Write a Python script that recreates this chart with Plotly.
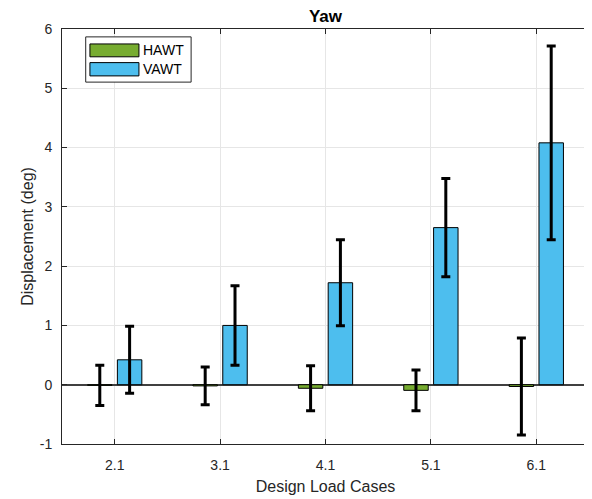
import plotly.graph_objects as go

categories = ["2.1", "3.1", "4.1", "5.1", "6.1"]
hawt_mean = [-0.01, -0.02, -0.06, -0.095, -0.03]
hawt_err = [0.34, 0.32, 0.38, 0.345, 0.82]
vawt_mean = [0.42, 1.00, 1.72, 2.65, 4.08]
vawt_err = [0.565, 0.67, 0.725, 0.83, 1.635]

y_tick_values = [-1, 0, 1, 2, 3, 4, 5, 6]
y_tick_labels = ["-1", "0", "1", "2", "3", "4", "5", "6"]

series_names = ["HAWT", "VAWT"]
series_colors = ["#77AC30", "#4DBEEE"]

font_family = "Liberation Sans, Arial, sans-serif"
axis_color = "#262626"

fig = go.Figure()
for name, color, ys, errs in zip(series_names, series_colors,
                                 [hawt_mean, vawt_mean], [hawt_err, vawt_err]):
    fig.add_trace(go.Bar(
        x=categories, y=ys, name=name, showlegend=False,
        marker=dict(color=color, line=dict(color="black", width=1)),
        error_y=dict(type="data", array=errs, visible=True, color="black",
                     thickness=3, width=4.5),
    ))

# legend box (drawn like MATLAB's legend)
fig.add_shape(type="rect", xref="paper", yref="paper", x0=0.045, x1=0.245, y0=0.872, y1=0.981,
              line=dict(color=axis_color, width=1), fillcolor="white", layer="above")
legend_rows = [(0.964, 0.933), (0.919, 0.887)]
for (y1, y0), name, color in zip(legend_rows, series_names, series_colors):
    fig.add_shape(type="rect", xref="paper", yref="paper", x0=0.053, x1=0.146, y0=y0, y1=y1,
                  line=dict(color="black", width=1), fillcolor=color, layer="above")
    fig.add_annotation(xref="paper", yref="paper", x=0.149, y=(y0 + y1) / 2, text=name,
                       showarrow=False, xanchor="left", yanchor="middle",
                       font=dict(size=14, color="black", family=font_family))

fig.update_layout(
    width=592, height=499,
    margin=dict(l=54, r=11, t=21, b=63, autoexpand=False),
    paper_bgcolor="white", plot_bgcolor="white",
    barmode="group", bargap=0.434, bargroupgap=0.18,
    font=dict(family=font_family, color=axis_color, size=14),
    title=dict(text="<b>Yaw</b>", x=0.5, xanchor="center", xref="paper", y=0.983, yanchor="middle",
               yref="container", font=dict(size=17, color="black", family=font_family)),
    showlegend=False,
)
fig.update_xaxes(
    type="category", range=[-0.5, 4.5], automargin=False,
    showline=True, linecolor=axis_color, linewidth=1, mirror="ticks",
    ticks="inside", ticklen=5, tickcolor=axis_color, ticklabelstandoff=8,
    showgrid=True, gridcolor="#e6e6e6", gridwidth=1,
    title=dict(text="Design Load Cases", font=dict(size=16), standoff=9),
    tickfont=dict(size=14), zeroline=False,
)
fig.update_yaxes(
    range=[-1, 6], tickmode="array", tickvals=y_tick_values, ticktext=y_tick_labels,
    automargin=False,
    showline=True, linecolor=axis_color, linewidth=1, mirror="ticks",
    ticks="inside", ticklen=5, tickcolor=axis_color, ticklabelstandoff=6,
    showgrid=True, gridcolor="#e6e6e6", gridwidth=1,
    zeroline=True, zerolinecolor="#404040", zerolinewidth=1.5,
    title=dict(text="Displacement (deg)", font=dict(size=16), standoff=2),
    tickfont=dict(size=14),
)

fig.write_html("out.html")
